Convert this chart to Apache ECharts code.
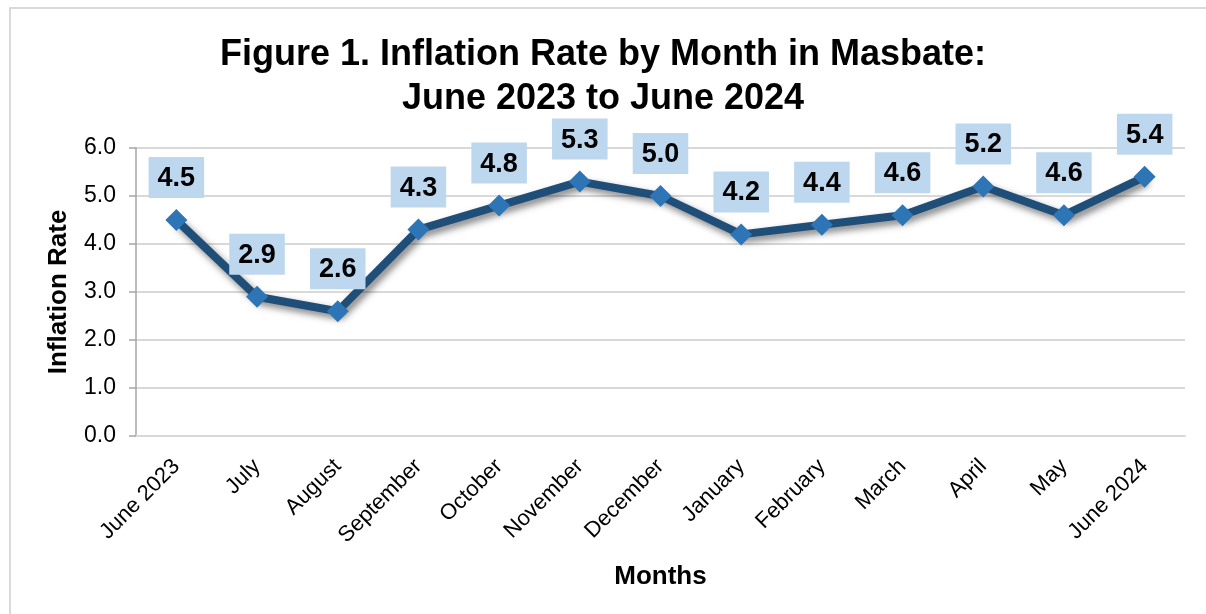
<!DOCTYPE html>
<html>
<head>
<meta charset="utf-8">
<script src="https://cdn.jsdelivr.net/npm/echarts@6/dist/echarts.min.js"></script>
<style>
  html, body { margin: 0; padding: 0; background: #fff; }
  #main { width: 1206px; height: 614px; }
</style>
</head>
<body>
<div id="main"></div>
<script>
// data
var months = ['June 2023', 'July', 'August', 'September', 'October', 'November', 'December',
  'January', 'February', 'March', 'April', 'May', 'June 2024'];
var inflation = [4.5, 2.9, 2.6, 4.3, 4.8, 5.3, 5.0, 4.2, 4.4, 4.6, 5.2, 4.6, 5.4];
var yTicks = { min: 0, max: 6, step: 1 };

var chartDom = document.getElementById('main');
var myChart = echarts.init(chartDom);
var font = 'Liberation Sans, Arial, sans-serif';

var option = {
  backgroundColor: '#fff',
  textStyle: { fontFamily: font },
  title: {
    text: 'Figure 1. Inflation Rate by Month in Masbate:\nJune 2023 to June 2024',
    left: 'center',
    top: 28,
    textStyle: { fontSize: 36, fontWeight: 'bold', color: '#000', lineHeight: 44, fontFamily: font }
  },
  graphic: [{
    type: 'rect',
    shape: { x: 10, y: 8, width: 1300, height: 700 },
    style: { fill: null, stroke: '#d9d9d9', lineWidth: 2 },
    silent: true
  }],
  grid: { left: 136, right: 21, top: 148, bottom: 178 },
  xAxis: {
    type: 'category',
    data: months,
    name: 'Months',
    nameLocation: 'middle',
    nameGap: 128,
    nameTextStyle: { fontSize: 26, fontWeight: 'bold', color: '#000', fontFamily: font },
    axisLine: { lineStyle: { color: '#d9d9d9', width: 2 } },
    axisTick: { show: false },
    axisLabel: { rotate: 45, fontSize: 22, color: '#000', margin: 27, interval: 0, fontFamily: font }
  },
  yAxis: {
    type: 'value',
    min: yTicks.min,
    max: yTicks.max,
    interval: yTicks.step,
    name: 'Inflation Rate',
    nameLocation: 'middle',
    nameGap: 64,
    nameTextStyle: { fontSize: 26, fontWeight: 'bold', color: '#000', fontFamily: font },
    axisLine: { show: true, lineStyle: { color: '#a6a6a6', width: 1.5 } },
    axisTick: { show: true, length: 7, lineStyle: { color: '#a6a6a6', width: 1.5 } },
    splitLine: { lineStyle: { color: '#d9d9d9', width: 2 } },
    axisLabel: {
      fontSize: 23, color: '#000', margin: 20, fontFamily: font,
      formatter: function (v) { return v.toFixed(1); }
    }
  },
  series: [{
    name: 'Inflation Rate',
    type: 'line',
    data: inflation,
    symbol: 'diamond',
    symbolSize: 22,
    itemStyle: { color: '#2e75b6' },
    lineStyle: {
      color: '#1f4e79', width: 8,
      shadowColor: 'rgba(0,0,0,0.5)', shadowBlur: 7, shadowOffsetX: 3, shadowOffsetY: 4
    },
    label: {
      show: true,
      position: 'top',
      distance: 11,
      fontSize: 27,
      fontWeight: 'bold',
      color: '#000',
      fontFamily: font,
      backgroundColor: '#bdd7ee',
      padding: [8, 9, 6, 9],
      formatter: function (p) { return p.value.toFixed(1); }
    },
    animation: false
  }],
  animation: false
};

option && myChart.setOption(option);
</script>
</body>
</html>
